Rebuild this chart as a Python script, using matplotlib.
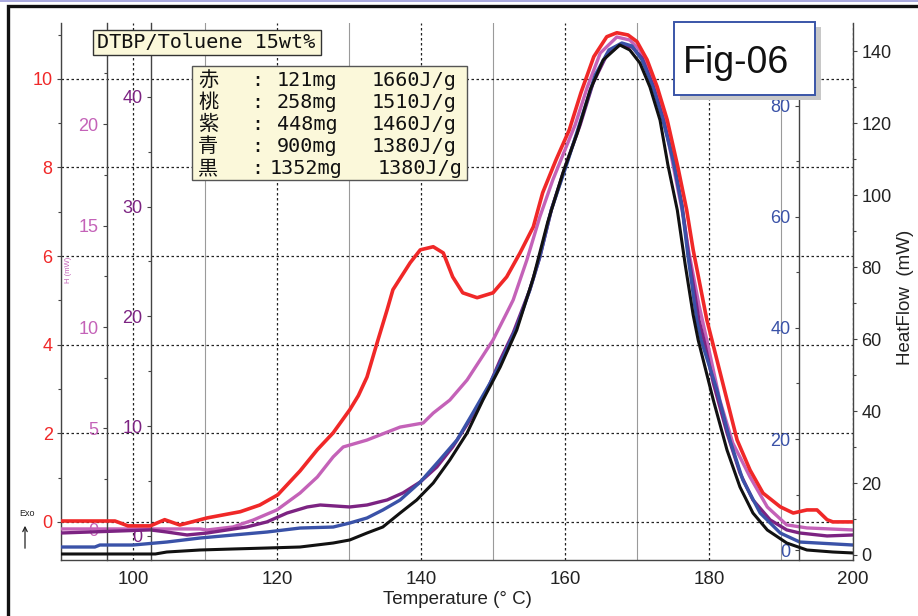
import matplotlib
matplotlib.use("Agg")
import matplotlib.pyplot as plt
from matplotlib.patches import Rectangle, FancyArrowPatch
from matplotlib.lines import Line2D
from matplotlib.ticker import MultipleLocator

plt.rcParams['font.family'] = ['Liberation Sans', 'DejaVu Sans']

W, H = 918, 616

# --- data (each curve in units of its own axis) ---
temp_red = [90, 97.5, 99.3, 102.4, 104.4, 106.5, 110.3, 114.9, 117.6, 120.1, 123.2, 125.6,
            127.8, 130.1, 131.3, 132.5, 133.9, 135.3, 136.1, 138.5, 139.9, 141.7, 143.1, 144.4,
            145.8, 147.8, 150.0, 151.9, 153.75, 155.6, 156.9, 158.75, 160.6, 162.2, 164.0,
            165.8, 167.2, 168.75, 170.0, 171.4, 172.8, 174.2, 175.7, 176.9, 177.8, 178.75,
            179.7, 180.4, 181.9, 183.9, 185.7, 187.5, 189.9, 191.7, 193.6, 195.0, 196.4,
            197.2, 200]
hf_red = [0.02, 0.02, -0.09, -0.09, 0.05, -0.07, 0.09, 0.23, 0.38, 0.61, 1.15, 1.63,
          2.01, 2.53, 2.85, 3.27, 4.04, 4.79, 5.24, 5.85, 6.14, 6.21, 6.07, 5.53,
          5.17, 5.06, 5.17, 5.53, 6.07, 6.66, 7.43, 8.17, 8.85, 9.68, 10.50,
          10.95, 11.04, 10.99, 10.84, 10.43, 9.82, 9.07, 7.99, 7.04, 6.14, 5.35,
          4.56, 4.11, 3.14, 1.85, 1.17, 0.65, 0.34, 0.20, 0.27, 0.27, 0.05,
          0.0, 0.0]

temp_pink = [90, 109.3, 110.3, 113.9, 116.7, 120.0, 123.2, 125.6, 127.8, 129.2, 132.5,
             137.1, 140.3, 141.7, 144.0, 146.4, 148.2, 150.0, 151.9, 152.8, 154.7, 156.5,
             158.3, 159.7, 161.4, 163.1, 164.9, 167.2, 169.0, 170.4, 172.1, 173.6, 175.0,
             176.4, 177.2, 178.6, 179.7, 181.5, 183.3, 185.7, 188.1, 190.8, 193.6, 200]
hf_pink = [0.05, 0.05, 0.0, 0.15, 0.49, 0.99, 1.82, 2.61, 3.60, 4.09, 4.43,
           5.07, 5.27, 5.76, 6.40, 7.39, 8.37, 9.36, 10.69, 11.33, 13.30, 15.42,
           17.24, 18.47, 19.95, 21.82, 23.50, 24.29, 24.14, 23.65, 22.32, 20.54, 18.00,
           15.50, 13.70, 11.10, 9.36, 6.40, 4.29, 2.61, 1.13, 0.25, 0.10, 0.0]

temp_purple = [90, 102.4, 104.7, 107.5, 110.3, 113.1, 115.8, 118.6, 121.4, 124.2, 126.0,
               130.1, 132.5, 135.3, 137.5, 139.9, 142.2, 144.4, 146.8, 149.2, 151.0, 152.8,
               155.1, 156.5, 158.1, 160.1, 162.1, 163.9, 165.8, 167.6, 169.3, 170.7, 172.2,
               173.6, 175.0, 176.25, 177.2, 178.6, 179.3, 180.6, 182.5, 184.3, 186.1, 188.5,
               190.8, 192.6, 196.4, 200]
hf_purple = [0.27, 0.55, 0.36, 0.09, 0.27, 0.55, 0.82, 1.28, 2.09, 2.64, 2.82,
             2.64, 2.82, 3.28, 3.92, 4.92, 6.28, 8.11, 10.56, 13.30, 16.03, 18.49,
             22.4, 25.4, 29.7, 33.79, 37.43, 41.26, 43.81, 44.72, 44.54, 43.53, 41.07,
             38.07, 34.43, 30.15, 25.41, 19.67, 17.85, 13.93, 9.38, 5.74, 3.28, 1.46,
             0.55, 0.27, 0.0, 0.09]

temp_blue = [90, 94.7, 95.4, 100, 104.7, 109.3, 113.9, 118.6, 123.2, 127.8, 130.1, 132.5,
             134.7, 137.1, 139.9, 142.6, 145.0, 147.2, 149.6, 151.4, 153.3, 155.1, 156.5,
             158.1, 160.3, 162.2, 164.2, 166.1, 167.9, 169.3, 170.7, 172.2, 173.6, 175.0,
             176.25, 177.1, 178.3, 178.9, 181.1, 182.9, 184.7, 187.1, 189.9, 192.6, 200]
hf_blue = [0.54, 0.54, 0.90, 0.90, 1.44, 2.16, 2.70, 3.24, 3.96, 4.14, 4.86, 5.77,
           7.21, 9.01, 12.25, 16.22, 19.82, 24.68, 30.09, 34.77, 40.18, 46.8, 52.8,
           61.3, 69.73, 77.48, 85.59, 90.09, 91.35, 90.81, 88.29, 83.42, 77.48, 70.27,
           61.80, 52.79, 41.44, 37.84, 28.83, 19.82, 12.61, 6.67, 3.06, 1.44, 0.90]

temp_black = [90, 103.1, 104.7, 109.3, 113.9, 118.6, 123.2, 127.8, 130.1, 132.5, 134.7,
              137.1, 139.4, 141.7, 144.0, 146.4, 148.6, 151.0, 153.3, 155.6, 157.6, 159.7,
              161.7, 163.5, 165.3, 167.6, 169.0, 170.4, 171.8, 173.2, 174.3, 175.6, 176.7,
              177.8, 178.5, 180.6, 182.5, 184.3, 186.1, 188.1, 190.8, 193.6, 197.2, 200]
hf_black = [0.28, 0.28, 0.83, 1.39, 1.67, 1.94, 2.22, 3.33, 4.17, 6.11, 7.78,
            11.67, 15.28, 20.0, 26.39, 33.89, 43.06, 52.22, 62.5, 77.0, 92.5, 106.1,
            117.2, 129.2, 137.5, 141.7, 140.3, 136.7, 130.0, 120.8, 108.3, 95.8, 80.6,
            66.7, 59.7, 43.06, 29.17, 18.89, 11.67, 6.94, 3.33, 1.39, 0.83, 0.56]

legend_kanji = ['赤', '桃', '紫', '青', '黒']
legend_mass = ['121mg', '258mg', '448mg', '900mg', '1352mg']
legend_heat = ['1660J/g', '1510J/g', '1460J/g', '1380J/g', '1380J/g']

C_RED = '#f02828'
C_PINK = '#c462b8'
C_PURPLE = '#7c2382'
C_BLUE = '#3a52a8'
C_BLACK = '#111111'
SPINE = '#444444'


def fx(x):
    return x / W


def fy(y):
    return 1 - y / H


fig = plt.figure(figsize=(W / 100, H / 100), dpi=100)

x0, x1, ytop, ybot = 61, 853, 23, 560
ax = fig.add_axes([fx(x0), fy(ybot), (x1 - x0) / W, (ybot - ytop) / H])
ax.set_xlim(90, 200)
ax.set_ylim(-0.86, 11.26)
ax.xaxis.set_major_locator(MultipleLocator(20))
ax.xaxis.set_minor_locator(MultipleLocator(10))
ax.yaxis.set_major_locator(MultipleLocator(2))
ax.yaxis.set_minor_locator(MultipleLocator(1))
ax.grid(which='major', axis='x', ls=(0, (2, 2)), color='#222', lw=0.9)
ax.grid(which='minor', axis='x', ls='-', color='#9a9a9a', lw=0.8)
ax.grid(which='major', axis='y', ls=(0, (2, 2)), color='#222', lw=0.9)
ax.tick_params(axis='x', which='both', length=0, pad=8, labelsize=13.5, labelcolor='#222')
ax.tick_params(axis='y', which='major', length=3, width=0.8, color=SPINE,
               labelsize=13, labelcolor=C_RED, pad=3)
ax.tick_params(axis='y', which='minor', length=2, width=0.8, color=SPINE)
for s in ['top', 'right']:
    ax.spines[s].set_visible(False)
for s in ['left', 'bottom']:
    ax.spines[s].set_color(SPINE)
    ax.spines[s].set_linewidth(1.0)


def make_axis(ylim, major, minor, pos, color, side='left'):
    a = ax.twinx()
    a.set_ylim(*ylim)
    for s in a.spines.values():
        s.set_visible(False)
    sp = a.spines[side]
    sp.set_visible(True)
    sp.set_position(('axes', pos))
    sp.set_color(SPINE)
    sp.set_linewidth(1.0)
    if side == 'left':
        a.yaxis.tick_left()
    else:
        a.yaxis.tick_right()
    a.yaxis.set_major_locator(MultipleLocator(major))
    a.yaxis.set_minor_locator(MultipleLocator(minor))
    a.tick_params(axis='y', which='major', length=3, width=0.8, color=SPINE,
                  labelsize=13, labelcolor=color, pad=3)
    a.tick_params(axis='y', which='minor', length=2, width=0.8, color=SPINE)
    return a


ax_pink = make_axis((-1.48, 24.98), 5, 2.5, (107 - x0) / (x1 - x0), C_PINK)
ax_purple = make_axis((-2.19, 46.72), 10, 5, (151 - x0) / (x1 - x0), C_PURPLE)
ax_blue = make_axis((-1.8, 94.95), 20, 10, (799 - x0) / (x1 - x0), C_BLUE)
ax_black = make_axis((-1.39, 147.8), 20, 10, 1.0, '#222', side='right')
ax_red = ax.twinx()
ax_red.set_ylim(ax.get_ylim())
ax_red.axis('off')

ax_black.plot(temp_black, hf_black, color=C_BLACK, lw=2.2)
ax_blue.plot(temp_blue, hf_blue, color=C_BLUE, lw=2.4)
ax_purple.plot(temp_purple, hf_purple, color=C_PURPLE, lw=2.4)
ax_pink.plot(temp_pink, hf_pink, color=C_PINK, lw=2.4)
ax_red.plot(temp_red, hf_red, color=C_RED, lw=2.6)

# axis titles
fig.text(fx(457), fy(600), 'Temperature (° C)', ha='center', va='center',
         fontsize=13.5, color='#222')
fig.text(fx(906), fy(297), 'HeatFlow  (mW)', ha='center', va='center',
         rotation=90, fontsize=13.5, color='#222')
fig.text(fx(68), fy(270), 'H (mW)', ha='center', va='center', rotation=90,
         fontsize=5.5, color=C_PINK)
fig.text(fx(27), fy(513), 'Exo', ha='center', va='center', fontsize=6.5, color='#222')
fig.add_artist(FancyArrowPatch((fx(25), fy(551)), (fx(25), fy(523)),
                               transform=fig.transFigure, arrowstyle='->',
                               mutation_scale=8, lw=0.9, color='#222'))

# title box
mono = ['DejaVu Sans Mono', 'Noto Sans CJK JP']
fig.add_artist(Rectangle((fx(93), fy(55)), (321 - 93) / W, 25 / H,
                         transform=fig.transFigure, fc='#fbf8da', ec='#333', lw=1.0))
fig.text(fx(97), fy(43), 'DTBP/Toluene 15wt%', ha='left', va='center',
         fontsize=14.5, family=mono, color='#111')

# legend box
fig.add_artist(Rectangle((fx(192), fy(180)), (467 - 192) / W, (180 - 66) / H,
                         transform=fig.transFigure, fc='#fbf8da', ec='#555', lw=1.0))
for i, (k, m, e) in enumerate(zip(legend_kanji, legend_mass, legend_heat)):
    yy = fy(80 + i * 22.2)
    last = i == len(legend_kanji) - 1
    fig.text(fx(198), yy, k, ha='left', va='center', fontsize=14.5,
             family=['Noto Sans CJK JP'], color='#111')
    fig.text(fx(257), yy, ':', ha='center', va='center', fontsize=14.5,
             family=mono, color='#111')
    fig.text(fx(270 if last else 277), yy, m, ha='left', va='center', fontsize=14.5,
             family=mono, color='#111')
    fig.text(fx(462 if last else 457), yy, e, ha='right', va='center', fontsize=14.5,
             family=mono, color='#111')

# Fig-06 box with shadow
fig.add_artist(Rectangle((fx(680), fy(100)), (815 - 674) / W, (95 - 22) / H,
                         transform=fig.transFigure, fc='#c8c8c8', ec='none'))
fig.add_artist(Rectangle((fx(674), fy(95)), (815 - 674) / W, (95 - 22) / H,
                         transform=fig.transFigure, fc='white', ec='#3a55a8', lw=1.4))
fig.text(fx(683), fy(63), 'Fig-06', ha='left', va='center', fontsize=27, color='#111')

# outer frame
fig.add_artist(Line2D([0, 1], [fy(1), fy(1)], transform=fig.transFigure,
                      color='#9a9ad8', lw=1.2))
fig.add_artist(Rectangle((fx(8), -0.1), 1.2, fy(5.5) + 0.1, transform=fig.transFigure,
                         fill=False, ec='#111', lw=2.4))

fig.savefig('out.png', dpi=100)
